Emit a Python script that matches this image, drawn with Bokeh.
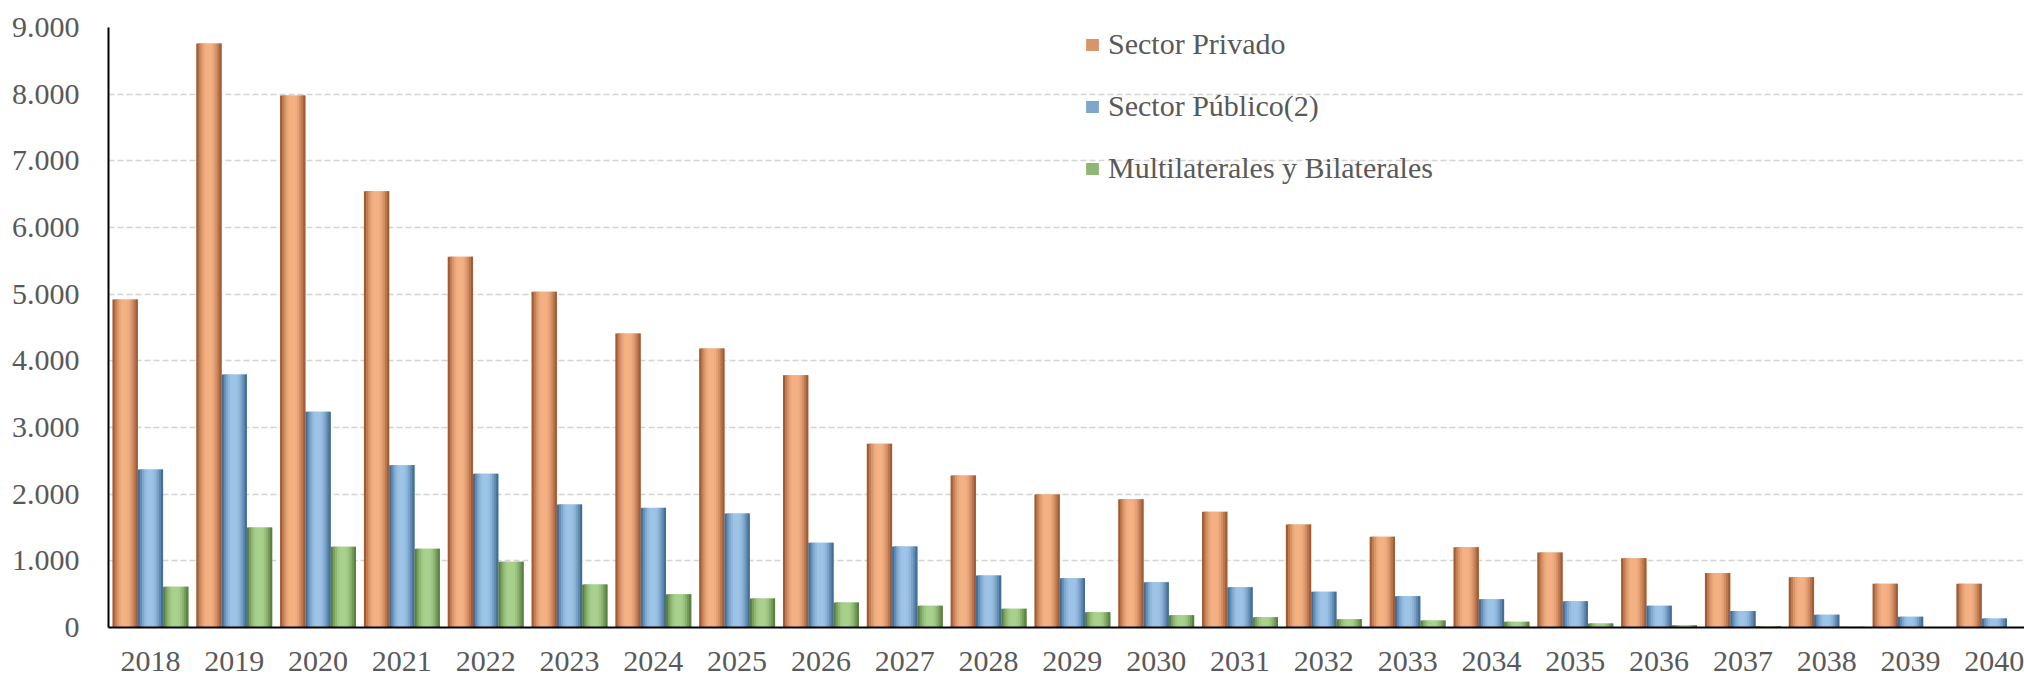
import numpy as np
from bokeh.plotting import figure
from bokeh.models import Range1d, FixedTicker, Legend, LegendItem, ColumnDataSource
from bokeh.transform import dodge
from bokeh.embed import file_html
from bokeh.resources import INLINE

years = [str(y) for y in range(2018, 2041)]
privado = [4920, 8760, 7980, 6545, 5560, 5035, 4410, 4185, 3785, 2755, 2280, 1995,
           1925, 1735, 1545, 1360, 1205, 1125, 1040, 818, 753, 657, 657]
publico = [2370, 3795, 3235, 2435, 2305, 1845, 1795, 1710, 1270, 1215, 780, 740,
           680, 605, 535, 470, 425, 395, 328, 247, 192, 162, 136]
multilat = [610, 1500, 1210, 1180, 985, 645, 500, 435, 375, 325, 280, 230,
            185, 155, 125, 105, 85, 60, 35, 20, 10, 0, 0]
series_names = ["Sector Privado", "Sector Público(2)", "Multilaterales y Bilaterales"]
y_ticks = [0, 1000, 2000, 3000, 4000, 5000, 6000, 7000, 8000, 9000]
y_labels = ["0", "1.000", "2.000", "3.000", "4.000", "5.000", "6.000", "7.000", "8.000", "9.000"]

FONT = "Liberation Serif"
TXT = "#595959"

p = figure(frame_width=1916, frame_height=600, output_backend="svg", toolbar_location=None,
           x_range=Range1d(-0.5, 22.36), y_range=Range1d(0, 9000),
           min_border_left=108, min_border_right=0, min_border_top=27, min_border_bottom=48)
p.outline_line_color = None
p.background_fill_color = "white"
p.border_fill_color = "white"

def hex2rgb(h):
    h = h.lstrip("#")
    return np.array([int(h[i:i + 2], 16) for i in (0, 2, 4)], dtype=float)

def mix(dark, light, v):
    c = hex2rgb(dark) * (1 - v) + hex2rgb(light) * v
    return "#%02x%02x%02x" % tuple(int(round(x)) for x in c)

palette = [("#8a4520", "#f4b183"), ("#2a5683", "#9dc3e6"), ("#466a2b", "#a9d18e")]
prof_t = [0.0, 0.1, 0.25, 0.38, 0.6, 0.75, 0.9, 1.0]
prof_v = [0.05, 0.45, 0.85, 1.0, 1.0, 0.8, 0.4, 0.1]

N = 12
bw = 0.302
sw = bw / N
values = [privado, publico, multilat]
legend_items = []
for s_idx, vals in enumerate(values):
    dark, light = palette[s_idx]
    off = (s_idx - 1) * bw
    src = ColumnDataSource(dict(x=list(range(len(years))), top=vals))
    rep = None
    for i in range(N):
        left = off - bw / 2 + i * sw
        right = min(left + 2 * sw, off + bw / 2)
        t = (i + 0.5) / N
        v = float(np.interp(t, prof_t, prof_v))
        col = mix(dark, light, v)
        r = p.vbar(x=dodge("x", (left + right) / 2), top="top", bottom=0, width=right - left,
                   source=src, fill_color=col, line_color=None)
        if i == 2:
            rep = r
    legend_items.append(LegendItem(label=series_names[s_idx], renderers=[rep]))

# axes
p.xaxis.ticker = FixedTicker(ticks=list(range(len(years))))
p.xaxis.major_label_overrides = {i: y for i, y in enumerate(years)}
p.yaxis.ticker = FixedTicker(ticks=y_ticks)
p.yaxis.major_label_overrides = {t: l for t, l in zip(y_ticks, y_labels)}
for ax in (p.xaxis[0], p.yaxis[0]):
    ax.major_tick_line_color = None
    ax.minor_tick_line_color = None
    ax.axis_line_color = "black"
    ax.axis_line_width = 2
    ax.major_label_text_font = FONT
    ax.major_label_text_font_size = "30px"
    ax.major_label_text_color = TXT
p.yaxis.major_label_standoff = 23
p.xaxis.major_label_standoff = 18

p.xgrid.grid_line_color = None
p.ygrid.ticker = FixedTicker(ticks=y_ticks[1:])
p.ygrid.grid_line_color = "#d4d4d4"
p.ygrid.grid_line_dash = "6 3"
p.ygrid.grid_line_width = 1.5

legend = Legend(items=legend_items, location=(976, 442), orientation="vertical",
                label_text_font=FONT, label_text_font_size="30px", label_text_color=TXT,
                glyph_width=16, glyph_height=15, label_height=30, label_standoff=8,
                spacing=28, padding=0, margin=0, border_line_color=None,
                background_fill_alpha=0)
p.add_layout(legend)

open("out.html", "w").write(file_html(p, INLINE))
